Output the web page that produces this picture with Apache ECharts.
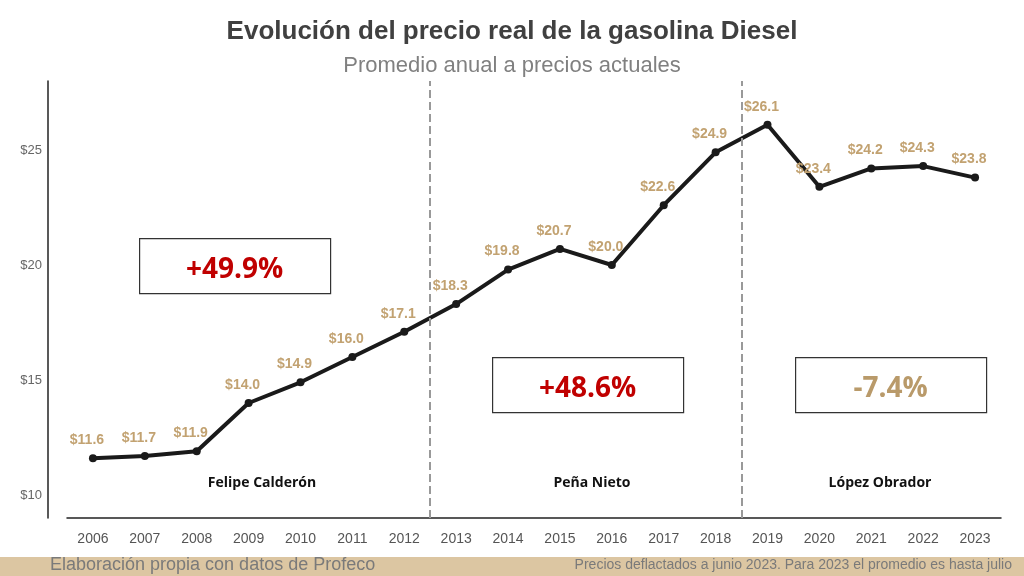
<!DOCTYPE html><html><head><meta charset="utf-8"><script src="https://cdn.jsdelivr.net/npm/echarts@6/dist/echarts.min.js"></script>
<style>body{margin:0}#c{width:1024px;height:576px;background:#fff}</style></head><body><div id="c"></div><script>
const years=['2006','2007','2008','2009','2010','2011','2012','2013','2014','2015','2016','2017','2018','2019','2020','2021','2022','2023'];
const prices=[11.6,11.7,11.9,14.0,14.9,16.0,17.1,18.3,19.8,20.7,20.0,22.6,24.9,26.1,23.4,24.2,24.3,23.8];
const dividers=[6.5,12.5];
const c=echarts.init(document.getElementById('c'));
const box=(x,y,w,h,t,col)=>[{type:'rect',left:x,top:y,shape:{width:w,height:h},style:{fill:'#fff',stroke:'#333',lineWidth:1.2}},
{type:'text',x:x+w/2,y:y+h/2+5,style:{text:t,fill:col,font:'bold 28px "Open Sans"',align:'center',verticalAlign:'middle'}}];
const lbl=(x,t)=>({type:'text',x:x,y:483,style:{text:t,fill:'#111',font:'bold 14px "Open Sans"',align:'center',verticalAlign:'middle'}});
c.setOption({
title:[{text:'Evolución del precio real de la gasolina Diesel',left:'center',top:14,textStyle:{fontFamily:'Liberation Sans',fontSize:26,fontWeight:'bold',color:'#404040'}},
{text:'Promedio anual a precios actuales',left:'center',top:50,textStyle:{fontFamily:'Liberation Sans',fontSize:22,fontWeight:'normal',color:'#808080'}}],
grid:{left:67,right:23,top:81,bottom:58},
xAxis:[{type:'category',data:years,axisLine:{lineStyle:{color:'#222',width:1.5}},axisTick:{show:false},axisLabel:{color:'#555',fontSize:14,margin:14,fontFamily:'Liberation Sans'}},
{type:'value',min:-0.5,max:17.5,show:false}],
yAxis:{type:'value',min:9,max:28,interval:1,offset:19,splitLine:{show:false},axisTick:{show:false},axisLine:{show:true,onZero:false,lineStyle:{color:'#222',width:1.5}},
axisLabel:{color:'#666',fontSize:13,margin:6,fontFamily:'Liberation Sans',formatter:v=>v%5===0?'$'+v:''}},
series:[{type:'line',data:prices,symbol:'circle',symbolSize:8,lineStyle:{color:'#1a1a1a',width:4},itemStyle:{color:'#1a1a1a'},
label:{show:true,position:'top',offset:[-6,-2],color:'#c2a271',fontWeight:'bold',fontSize:14,fontFamily:'Liberation Sans',formatter:p=>'$'+p.value.toFixed(1)}},
{type:'line',xAxisIndex:1,data:[],markLine:{symbol:'none',silent:true,label:{show:false},lineStyle:{color:'#999',type:'dashed',width:2},data:dividers.map(d=>({xAxis:d}))}}],
graphic:[{type:'rect',left:0,top:557,shape:{width:1024,height:19},style:{fill:'#dcc6a2'}},
{type:'text',left:50,top:556,style:{text:'Elaboración propia con datos de Profeco',fill:'#7a7a7a',font:'18px "Liberation Sans"'}},
{type:'text',right:12,top:558,style:{text:'Precios deflactados a junio 2023. Para 2023 el promedio es hasta julio',fill:'#7a7a7a',font:'14px "Liberation Sans"'}},
...box(139,238,191,55,'+49.9%','#c00000'),...box(492,357,191,55,'+48.6%','#c00000'),...box(795,357,191,55,'-7.4%','#b99a6a'),
lbl(262,'Felipe Calderón'),lbl(592,'Peña Nieto'),lbl(880,'López Obrador')]
});
</script></body></html>
